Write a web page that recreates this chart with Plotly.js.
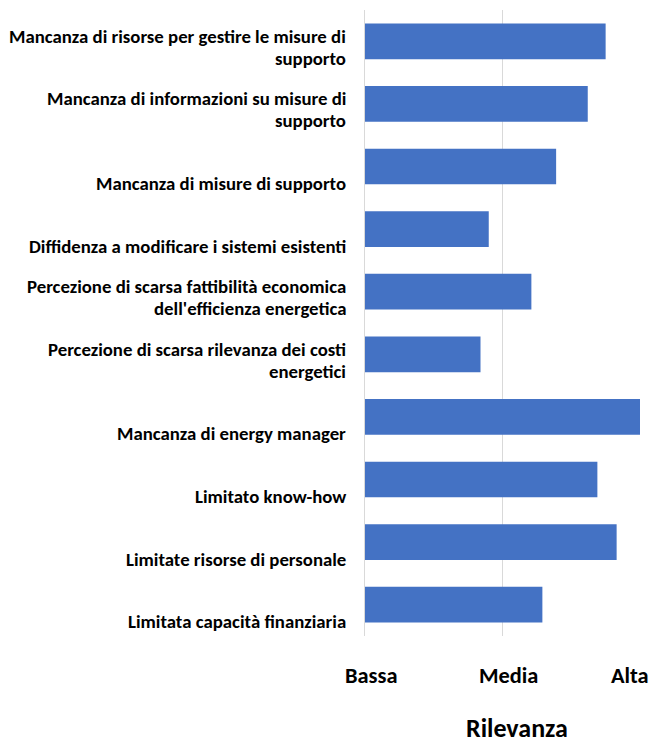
<!DOCTYPE html>
<html>
<head>
<meta charset="utf-8">
<script src="https://cdn.plot.ly/plotly-3.0.1.min.js"></script>
<style>
  html, body { margin: 0; padding: 0; background: #ffffff; }
  #chart { width: 651px; height: 745px; }
</style>
</head>
<body>
<div id="chart"></div>
<script>
// ---- data ----
const categories = [
  "Mancanza di risorse per gestire le misure di<br>supporto",
  "Mancanza di informazioni su misure di<br>supporto",
  "Mancanza di misure di supporto",
  "Diffidenza a modificare i sistemi esistenti",
  "Percezione di scarsa fattibilità economica<br>dell'efficienza energetica",
  "Percezione di scarsa rilevanza dei costi<br>energetici",
  "Mancanza di energy manager",
  "Limitato know-how",
  "Limitate risorse di personale",
  "Limitata capacità finanziaria"
];
const values = [1.75, 1.62, 1.39, 0.90, 1.21, 0.84, 2.00, 1.69, 1.83, 1.29];
const tickValues = [0, 1, 2];
const tickLabels = ["Bassa", "Media", "Alta"];
const axisTitle = "Rilevanza";

// ---- style ----
const FONT = "Carlito, Lato, 'Liberation Sans', sans-serif";
const BAR_COLOR = "#4472C4";
const GRID = "#d9d9d9";
const LABEL_SIZE = 18.8, LINE_STEP = 22, LAST_LINE_OFFSET = 17;

const annotations = [];
categories.forEach(function (c) {
  const lines = c.split("<br>");
  const n = lines.length;
  lines.forEach(function (ln, k) {
    annotations.push({
      text: ln, xref: "paper", x: 0, xanchor: "right", xshift: -17,
      yref: "y", y: c, yanchor: "middle",
      yshift: -(LAST_LINE_OFFSET - (n - 1 - k) * LINE_STEP),
      showarrow: false, align: "right",
      font: { family: FONT, size: LABEL_SIZE, color: "#000000", weight: 700 }
    });
  });
});
tickValues.forEach(function (v, i) {
  const last = i === tickValues.length - 1;
  annotations.push({
    text: tickLabels[i], xref: "x", x: v,
    xanchor: last ? "right" : "center", xshift: last ? 11 : 6,
    yref: "paper", y: 0, yanchor: "middle", yshift: -39,
    showarrow: false,
    font: { family: FONT, size: 22.4, color: "#000000", weight: 700 }
  });
});
annotations.push({
  text: axisTitle, xref: "paper", x: 0.5, xanchor: "center", xshift: 14,
  yref: "paper", y: 0, yanchor: "middle", yshift: -92,
  showarrow: false,
  font: { family: FONT, size: 26, color: "#000000", weight: 700 }
});

const trace = {
  type: "bar", orientation: "h",
  x: values, y: categories,
  marker: { color: BAR_COLOR },
  hoverinfo: "x+y"
};

const layout = {
  width: 651, height: 745,
  margin: { l: 365, r: 11, t: 10, b: 109, pad: 0 },
  paper_bgcolor: "#ffffff", plot_bgcolor: "#ffffff",
  showlegend: false,
  bargap: 0.43,
  xaxis: {
    range: [0, 2], tickvals: tickValues, showticklabels: false,
    showgrid: true, gridcolor: GRID, gridwidth: 1,
    zeroline: false, showline: false, fixedrange: true
  },
  yaxis: {
    type: "category", autorange: "reversed", showticklabels: false,
    showgrid: false, zeroline: false,
    showline: true, linecolor: GRID, linewidth: 1, fixedrange: true
  },
  annotations: annotations
};

Plotly.newPlot("chart", [trace], layout, { displayModeBar: false, staticPlot: true });
</script>
</body>
</html>
